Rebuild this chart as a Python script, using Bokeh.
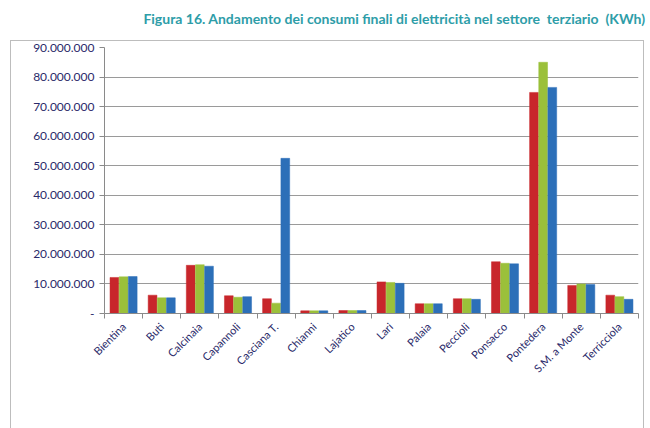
import math
from bokeh.plotting import figure
from bokeh.layouts import column
from bokeh.models import ColumnDataSource, FixedTicker, Legend, LegendItem, Div
from bokeh.transform import dodge
from bokeh.embed import file_html
from bokeh.resources import INLINE

comuni = ["Bientina", "Buti", "Calcinaia", "Capannoli", "Casciana T.", "Chianni",
          "Lajatico", "Lari", "Palaia", "Peccioli", "Ponsacco", "Pontedera",
          "S.M. a Monte", "Terricciola"]
v2011 = [12.2e6, 6.2e6, 16.3e6, 6.0e6, 5.0e6, 0.9e6, 1.0e6, 10.7e6, 3.3e6, 5.0e6, 17.5e6, 74.8e6, 9.5e6, 6.2e6]
v2012 = [12.4e6, 5.3e6, 16.5e6, 5.5e6, 3.5e6, 0.9e6, 1.0e6, 10.5e6, 3.3e6, 5.0e6, 17.0e6, 85.0e6, 10.0e6, 5.7e6]
v2013 = [12.5e6, 5.3e6, 16.0e6, 5.7e6, 52.5e6, 0.9e6, 1.0e6, 10.2e6, 3.3e6, 4.8e6, 16.8e6, 76.5e6, 9.8e6, 4.8e6]
anni = ["2011", "2012", "2013"]
y_ticks = [0, 10e6, 20e6, 30e6, 40e6, 50e6, 60e6, 70e6, 80e6, 90e6]
titolo = "Figura 16. Andamento dei consumi finali di elettricità nel settore&nbsp; terziario&nbsp; (KWh)"

colors = ["#C8262B", "#9BC03A", "#2C6FB8"]
FONT = "Lato"

xs = list(range(len(comuni)))
src = ColumnDataSource(dict(x=xs, v2011=v2011, v2012=v2012, v2013=v2013))

p = figure(frame_width=532, frame_height=264, output_backend="svg", toolbar_location=None,
           x_range=(-0.5, len(comuni) - 0.5), y_range=(0, 90e6),
           min_border_left=93, min_border_right=7, min_border_top=6, min_border_bottom=0)
p.styles = {"border": "1px solid #bdbdbd"}
p.margin = (0, 0, 0, 10)

renderers = []
offsets = [-0.24, 0.0, 0.24]
for key, off, c in zip(["v2011", "v2012", "v2013"], offsets, colors):
    r = p.vbar(x=dodge("x", off), top=key, width=0.23,
               source=src, fill_color=c, line_color=c, line_width=0.5)
    renderers.append(r)

p.xaxis.ticker = FixedTicker(ticks=xs, minor_ticks=[i - 0.5 for i in range(len(comuni) + 1)])
p.xaxis.major_label_overrides = {i: n for i, n in enumerate(comuni)}
p.xaxis.major_label_orientation = math.pi / 4
p.xaxis.major_tick_line_color = None
p.xaxis.major_tick_out = 0
p.xaxis.major_tick_in = 0
p.xaxis.minor_tick_out = 5
p.xaxis.minor_tick_in = 0
p.xaxis.minor_tick_line_color = "#8a8a8a"
p.xaxis.axis_line_color = "#8a8a8a"
p.xaxis.major_label_text_font = FONT
p.xaxis.major_label_text_font_size = "11px"
p.xaxis.major_label_text_color = "#2a2a6a"
p.xaxis.major_label_standoff = 6
p.xgrid.grid_line_color = None

p.yaxis.ticker = FixedTicker(ticks=y_ticks)
p.yaxis.major_label_overrides = {v: ("-" if v == 0 else f"{int(v):,}".replace(",", ".")) for v in y_ticks}
p.yaxis.major_tick_out = 5
p.yaxis.major_tick_in = 0
p.yaxis.minor_tick_line_color = None
p.yaxis.major_tick_line_color = "#8a8a8a"
p.yaxis.axis_line_color = "#8a8a8a"
p.yaxis.major_label_text_font = FONT
p.yaxis.major_label_text_font_size = "12px"
p.yaxis.major_label_text_color = "#2a2a6a"
p.ygrid.grid_line_color = "#9a9a9a"
p.ygrid.grid_line_width = 1

p.outline_line_color = None

legend = Legend(items=[LegendItem(label=a, renderers=[r]) for a, r in zip(anni, renderers)],
                orientation="horizontal", location="center", border_line_color=None,
                background_fill_alpha=0,
                label_text_font=FONT, label_text_font_size="13px", label_text_color="#404060",
                label_height=14, label_text_baseline="middle",
                glyph_width=7, glyph_height=7, spacing=10, label_standoff=1, padding=0, margin=0)
p.add_layout(legend, "below")

div = Div(text=titolo, width=640, height=30,
          styles={"font-family": FONT, "font-weight": "bold", "font-size": "14px",
                  "color": "#2E9DA8", "text-align": "right", "padding-top": "4px",
                  "white-space": "nowrap"})

layout = column(div, p, spacing=0)
open("out.html", "w").write(file_html(layout, INLINE))
